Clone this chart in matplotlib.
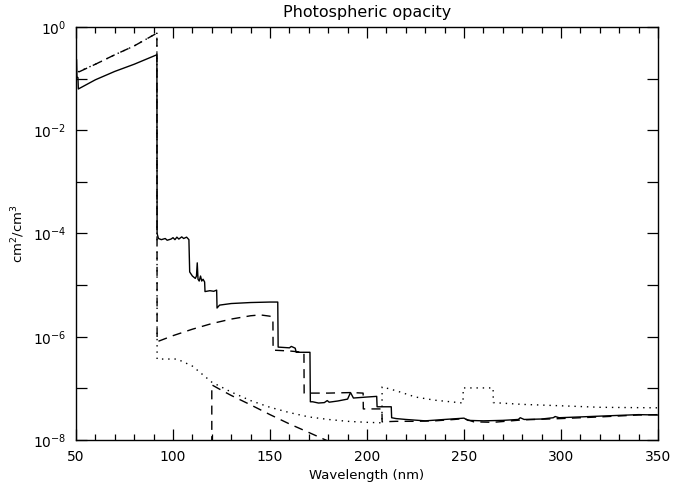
# Photospheric opacity, redrawn from the IDL-style plot
import numpy as np
import matplotlib.pyplot as plt
from matplotlib.ticker import FixedLocator, FuncFormatter, MultipleLocator

# total opacity (solid)
wl_tot = [50.3, 50.5, 51.0, 51.2, 60, 70, 80, 91.7,
          91.8, 92.5, 94, 96, 97, 99, 100, 101, 102, 103, 104.5, 105.5, 107, 108.2,
          108.6, 110, 111.5, 112.1, 112.5, 112.9, 113.5, 114.2, 114.8, 115.5, 116.3,
          116.5, 119, 121, 122.5, 122.7, 124, 130, 140, 150, 154,
          154.2, 160, 161, 163, 163.5, 170.6,
          170.8, 172, 175, 178, 179.5, 180.5, 185, 190, 191.5, 193, 200, 205,
          205.2, 212.5, 212.7, 215, 220, 230, 240, 250, 252, 260, 270, 278, 279, 281,
          290, 296, 297, 299, 310, 320, 330, 340, 350]
op_tot = [2.3e-1, 1.05e-1, 1.05e-1, 6.3e-2, 9.5e-2, 1.38e-1, 1.9e-1, 2.9e-1,
          1.0e-4, 8.0e-5, 7.6e-5, 8.0e-5, 7.4e-5, 7.8e-5, 8.3e-5, 7.6e-5, 8.5e-5, 7.8e-5, 8.6e-5, 8.0e-5, 8.5e-5, 7.6e-5,
          1.8e-5, 1.5e-5, 1.35e-5, 1.5e-5, 2.7e-5, 1.3e-5, 1.2e-5, 1.5e-5, 1.2e-5, 1.3e-5, 1.15e-5,
          7.5e-6, 7.8e-6, 7.6e-6, 8.0e-6, 3.6e-6, 4.1e-6, 4.4e-6, 4.6e-6, 4.7e-6, 4.7e-6,
          6.3e-7, 6.1e-7, 6.5e-7, 6.0e-7, 5.0e-7, 5.0e-7,
          5.5e-8, 5.5e-8, 5.2e-8, 5.3e-8, 5.8e-8, 5.4e-8, 5.7e-8, 6.2e-8, 8.3e-8, 6.5e-8, 6.8e-8, 7.0e-8,
          4.4e-8, 4.4e-8, 2.7e-8, 2.6e-8, 2.5e-8, 2.35e-8, 2.5e-8, 2.65e-8, 2.4e-8, 2.35e-8, 2.4e-8, 2.5e-8, 2.7e-8, 2.5e-8,
          2.55e-8, 2.7e-8, 2.85e-8, 2.7e-8, 2.8e-8, 2.9e-8, 3.0e-8, 3.1e-8, 3.05e-8]

# dashed component
wl_dash = [51.5, 60, 70, 80, 91.7,
           91.8, 100, 110, 120, 130, 140, 145, 150, 151.5,
           151.6, 160, 167.5,
           167.6, 180, 192, 198,
           198.1, 207.7,
           207.8, 215, 225, 235, 245, 250, 255, 265, 280, 300, 320, 340, 350]
op_dash = [1.35e-1, 1.9e-1, 2.9e-1, 4.3e-1, 7.6e-1,
           8.0e-7, 1.05e-6, 1.4e-6, 1.8e-6, 2.2e-6, 2.55e-6, 2.65e-6, 2.5e-6, 2.3e-6,
           5.5e-7, 5.3e-7, 5.0e-7,
           8.1e-8, 8.1e-8, 8.3e-8, 8.1e-8,
           4.0e-8, 4.0e-8,
           2.25e-8, 2.3e-8, 2.3e-8, 2.35e-8, 2.5e-8, 2.6e-8, 2.25e-8, 2.2e-8, 2.45e-8, 2.6e-8, 2.8e-8, 3.05e-8, 3.1e-8]

# dashed component starting at 120 nm
wl_lya = [120, 120, 125, 130, 140, 150, 160, 170, 180]
op_lya = [1e-9, 1.17e-7, 9.2e-8, 7.3e-8, 4.8e-8, 3.1e-8, 2.05e-8, 1.4e-8, 9.5e-9]

# dotted component
wl_dot = [51.0, 60, 70, 80, 91.7,
          91.8, 102, 105, 110, 120, 130, 140, 150, 160, 170, 180, 190, 200, 207.7,
          207.8, 215, 225, 235, 249.5,
          249.6, 265,
          265.1, 280, 300, 320, 350]
op_dot = [1.35e-1, 1.9e-1, 2.9e-1, 4.3e-1, 7.6e-1,
          3.7e-7, 3.7e-7, 3.3e-7, 2.7e-7, 1.32e-7, 8.5e-8, 5.8e-8, 4.3e-8, 3.4e-8, 2.8e-8, 2.5e-8, 2.3e-8, 2.2e-8, 2.15e-8,
          1.07e-7, 9.0e-8, 6.8e-8, 5.9e-8, 5.2e-8,
          1.02e-7, 1.02e-7,
          5.3e-8, 4.9e-8, 4.6e-8, 4.3e-8, 4.2e-8]

fig = plt.figure(figsize=(6.97, 4.90), dpi=100)
ax = fig.add_axes([76/697, 50/490, 582/697, 413/490])

ax.plot(wl_tot, op_tot, color='k', lw=1.0)
ax.plot(wl_dash, op_dash, color='k', lw=1.0, linestyle=(0, (6.5, 4.5)))
ax.plot(wl_lya, op_lya, color='k', lw=1.0, linestyle=(0, (6.5, 4.5)))
ax.plot(wl_dot, op_dot, color='k', lw=1.0, linestyle=(0, (1, 3.5)))

ax.set_yscale('log')
ax.set_xlim(50, 350)
ax.set_ylim(1e-8, 1)

ax.xaxis.set_major_locator(MultipleLocator(50))
ax.xaxis.set_minor_locator(MultipleLocator(10))
ax.yaxis.set_major_locator(FixedLocator([10.0**k for k in range(-8, 1)]))
ax.yaxis.set_minor_locator(FixedLocator([]))

def ylab(v, pos):
    k = int(round(np.log10(v)))
    if k % 2:
        return ''
    return r'$10^{%d}$' % k

ax.yaxis.set_major_formatter(FuncFormatter(ylab))
ax.tick_params(which='both', direction='in', top=True, right=True, labelsize=10, pad=7)
ax.tick_params(which='major', length=8, width=0.9)
ax.tick_params(which='minor', length=4, width=0.9)
for s in ax.spines.values():
    s.set_linewidth(1.0)

ax.set_title('Photospheric opacity', fontsize=11.5, pad=7)
ax.set_xlabel('Wavelength (nm)', fontsize=9.5)
ax.set_ylabel(r'cm$^2$/cm$^3$', fontsize=9.5)

plt.savefig('out.png', dpi=100)
